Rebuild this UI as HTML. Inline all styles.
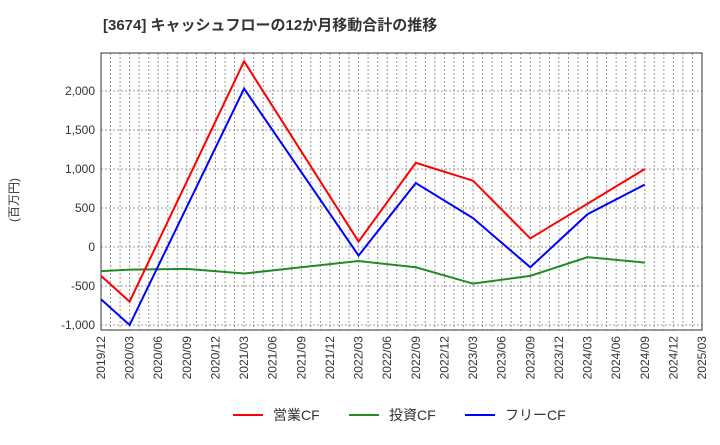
<!DOCTYPE html>
<html><head><meta charset="utf-8"><style>
body{margin:0;background:#fff;font-family:"Liberation Sans","Noto Sans CJK JP",sans-serif;}
svg text{font-family:"Liberation Sans","Noto Sans CJK JP",sans-serif;}
</style></head><body>
<svg id="c" width="720" height="440">
<text x="103" y="30" font-size="15" font-weight="bold" fill="#333">[3674]  キャッシュフローの12か月移動合計の推移</text>
<text x="18" y="200" font-size="12" fill="#333" transform="rotate(-90 18 200)" text-anchor="middle">(百万円)</text>
<g id="grid"></g><g id="axes"></g><g id="series"></g><g id="legend"></g>
</svg>
<script>
const xLabels=["2019/12","2020/03","2020/06","2020/09","2020/12","2021/03","2021/06","2021/09","2021/12","2022/03","2022/06","2022/09","2022/12","2023/03","2023/06","2023/09","2023/12","2024/03","2024/06","2024/09","2024/12","2025/03"];
const yTicks=[-1000,-500,0,500,1000,1500,2000];
const opIdx=[0,1,5,9,11,13,15,19];
const opVals=[-370,-700,2380,70,1080,850,110,1000];
const invIdx=[0,1,3,5,7,9,11,13,15,17,19];
const invVals=[-310,-290,-280,-340,-260,-180,-260,-470,-370,-130,-200];
const freeIdx=[0,1,5,9,11,13,15,17,19];
const freeVals=[-670,-1000,2030,-110,820,370,-260,420,800];
const L=101,R=702,T=53,B=330;
const X=i=>L+i*(R-L)/(xLabels.length-1);
const Y=v=>247-v*0.078;
const ns="http://www.w3.org/2000/svg";
function mk(p,t,a){const e=document.createElementNS(ns,t);for(const k in a)e.setAttribute(k,a[k]);p.appendChild(e);return e;}
const g=document.getElementById('grid'),ax=document.getElementById('axes'),s=document.getElementById('series'),lg=document.getElementById('legend');
for(let m=1;m<(xLabels.length-1)*3;m++){const x=L+m*(R-L)/((xLabels.length-1)*3);
const l=mk(g,'line',{x1:x,x2:x,y1:T,y2:B,stroke:'#999','stroke-dasharray':'2,2'});

}
for(let v=-1000;v<=2500;v+=500){if(Y(v)<T||Y(v)>B)continue;
const l=mk(g,'line',{x1:L,x2:R,y1:Y(v),y2:Y(v),stroke:'#999','stroke-dasharray':'2,2'});

}
const fr=mk(ax,'rect',{x:L,y:T,width:R-L,height:B-T,fill:'none',stroke:'#333'});


yTicks.forEach(v=>{const t=mk(ax,'text',{x:L-6,y:Y(v)+4,'text-anchor':'end','font-size':12,fill:'#333'});t.textContent=v.toLocaleString('en-US');

});
xLabels.forEach((lb,i)=>{const x=X(i),y=B+6;const t=mk(ax,'text',{x:x+4,y:y,'text-anchor':'end','font-size':12,fill:'#333',transform:`rotate(-90 ${x+4} ${y})`});t.textContent=lb;

});
function line(idx,vals,c,n){const p=mk(s,'polyline',{points:idx.map((i,k)=>X(i)+','+Y(vals[k])).join(' '),fill:'none',stroke:c,'stroke-width':2});

}
line(invIdx,invVals,'#228b22','investing-cf-line');
line(freeIdx,freeVals,'#0000ff','free-cf-line');
line(opIdx,opVals,'#ff0000','operating-cf-line');
[["営業CF","#ff0000",233],["投資CF","#228b22",349],["フリーCF","#0000ff",465]].forEach(([n,c,x])=>{
const l=mk(lg,'line',{x1:x,x2:x+30,y1:415,y2:415,stroke:c,'stroke-width':2});


const t=mk(lg,'text',{x:x+40,y:420,'font-size':14,fill:'#333'});t.textContent=n;

});
</script>
</body></html>
